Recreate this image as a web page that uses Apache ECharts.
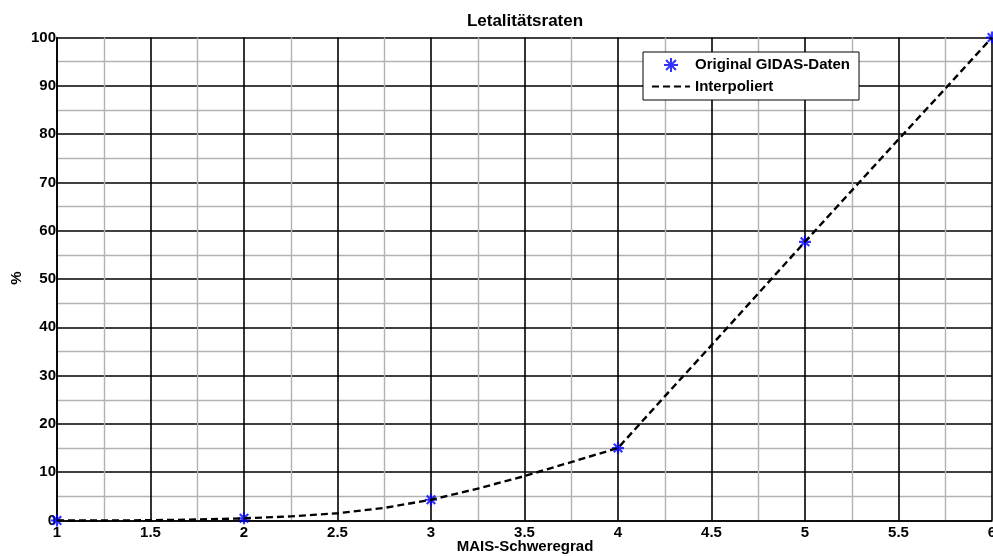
<!DOCTYPE html>
<html>
<head>
<meta charset="utf-8">
<script src="https://cdn.jsdelivr.net/npm/echarts@6/dist/echarts.min.js"></script>
<style>
html, body { margin: 0; padding: 0; background: #ffffff; }
#chart { width: 993px; height: 556px; }
</style>
</head>
<body>
<div id="chart"></div>
<script>
// MAIS severity grades and the measured fatality rates (%)
const gradeValues = [1, 2, 3, 4, 5, 6];
const fatalityRates = [0, 0.45, 4.3, 15, 57.7, 100];

// Interpolated curve through the measured rates, sampled every quarter grade
const curveGrades = [1, 1.25, 1.5, 1.75, 2, 2.25, 2.5, 2.75, 3, 3.25, 3.5, 3.75, 4, 4.25, 4.5, 4.75, 5, 5.25, 5.5, 5.75, 6];
const curveRates  = [0, 0.01, 0.05, 0.2, 0.45, 0.85, 1.5, 2.6, 4.3, 6.6, 9.2, 12.1, 15, 25.7, 36.3, 47, 57.7, 68.3, 78.9, 89.4, 100];

const seriesNames = ['Original GIDAS-Daten', 'Interpoliert'];
const chartTitle = 'Letalitätsraten';
const xAxisTitle = 'MAIS-Schweregrad';
const yAxisTitle = '%';

const FONT = '"Liberation Sans", Arial, Helvetica, sans-serif';
const ASTERISK = 'path://M0,-10L0,10M-10,0L10,0M-7.07,-7.07L7.07,7.07M-7.07,7.07L7.07,-7.07';

const chart = echarts.init(document.getElementById('chart'), null, { renderer: 'canvas' });

const majorLine = { show: true, lineStyle: { color: '#000000', width: 1.6 } };
const minorLine = { show: true, lineStyle: { color: '#b2b2b2', width: 1.4 } };
const tickFont = { color: '#000000', fontFamily: FONT, fontWeight: 'bold', fontSize: 15 };

chart.setOption({
  animation: false,
  backgroundColor: '#ffffff',
  grid: { left: 57, right: 1, top: 37.5, bottom: 35.5, containLabel: false, outerBoundsMode: 'none' },
  xAxis: {
    type: 'value',
    min: 1, max: 6, interval: 0.5,
    axisLine: { show: true, onZero: false, lineStyle: { color: '#000000', width: 1.6 } },
    axisTick: { show: false },
    minorTick: { show: false, splitNumber: 2 },
    splitLine: majorLine,
    minorSplitLine: minorLine,
    axisLabel: Object.assign({ margin: 5, showMinLabel: true, showMaxLabel: true, hideOverlap: false }, tickFont)
  },
  yAxis: {
    type: 'value',
    min: 0, max: 100, interval: 10,
    axisLine: { show: true, lineStyle: { color: '#000000', width: 1.6 } },
    axisTick: { show: false },
    minorTick: { show: false, splitNumber: 2 },
    splitLine: majorLine,
    minorSplitLine: minorLine,
    axisLabel: Object.assign({ margin: 1, showMinLabel: true, showMaxLabel: true }, tickFont)
  },
  legend: {
    orient: 'vertical',
    left: 643, top: 52,
    padding: [5, 9, 6, 8],
    itemGap: 6,
    itemWidth: 38, itemHeight: 14,
    backgroundColor: '#ffffff',
    borderColor: '#000000', borderWidth: 1,
    textStyle: { color: '#000000', fontFamily: FONT, fontWeight: 'bold', fontSize: 15 },
    data: seriesNames,
    selectedMode: false
  },
  graphic: [
    {
      type: 'text', x: 525, y: 21.5,
      style: { text: chartTitle, fill: '#000000', font: 'bold 17px ' + FONT, textAlign: 'center', textVerticalAlign: 'middle' }
    },
    {
      type: 'text', x: 525, y: 546.5,
      style: { text: xAxisTitle, fill: '#000000', font: 'bold 15px ' + FONT, textAlign: 'center', textVerticalAlign: 'middle' }
    },
    {
      type: 'text', x: 17, y: 278, rotation: Math.PI / 2,
      style: { text: yAxisTitle, fill: '#000000', font: 'bold 15px ' + FONT, textAlign: 'center', textVerticalAlign: 'middle' }
    }
  ],
  series: [
    {
      name: seriesNames[0],
      type: 'scatter',
      data: gradeValues.map((g, i) => [g, fatalityRates[i]]),
      symbol: ASTERISK,
      symbolSize: 12,
      itemStyle: { color: 'rgba(0,0,255,0)', borderColor: '#0000ff', borderWidth: 2.2 },
      clip: false,
      z: 3
    },
    {
      name: seriesNames[1],
      type: 'line',
      data: curveGrades.map((g, i) => [g, curveRates[i]]),
      showSymbol: false,
      symbol: 'none',
      smooth: false,
      lineStyle: { color: '#000000', width: 2.4, type: [7, 4] },
      itemStyle: { color: 'rgba(0,0,0,0)', borderColor: 'rgba(0,0,0,0)', borderWidth: 0 },
      clip: false,
      z: 4
    }
  ]
});
</script>
</body>
</html>
